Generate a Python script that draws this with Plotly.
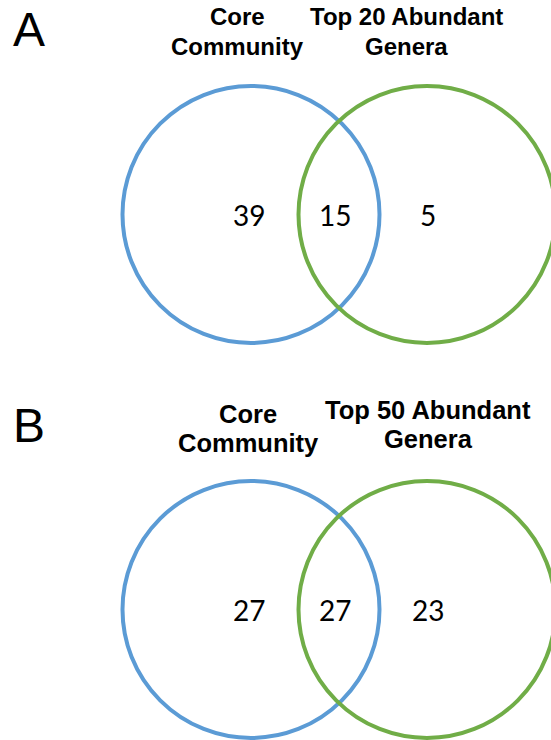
import plotly.graph_objects as go

# ---- data ----
panels = ["A", "B"]
set_left_labels = ["Core<br>Community", "Core<br>Community"]
set_right_labels = ["Top 20 Abundant<br>Genera", "Top 50 Abundant<br>Genera"]
left_only = [39, 27]
overlap = [15, 27]
right_only = [5, 23]

# ---- layout geometry (page pixels) ----
W, H = 551, 740
R = 128.5
cy = [214.5, 609.5]
cx_left, cx_right = 251, 427
head_x_left = [237, 248]
head_x_right = [406, 428]
head_y = [[16.5, 46.5], [413.5, 443]]
head_y_r = [[16.5, 46.5], [410, 439]]
head_size = [24, 25.5]
num_x = [248.5, 335, 428]
letter_y = [29, 425.5]
BLUE = "#5B9BD5"
GREEN = "#70AD47"

fig = go.Figure()
shapes = []
annotations = []
for i, p in enumerate(panels):
    for cx, col in [(cx_left, BLUE), (cx_right, GREEN)]:
        shapes.append(dict(type="circle", xref="x", yref="y",
                           x0=cx - R, x1=cx + R, y0=cy[i] - R, y1=cy[i] + R,
                           line=dict(color=col, width=4)))
    # panel letter
    annotations.append(dict(x=29, y=letter_y[i], text=p, showarrow=False,
                            xanchor="center", yanchor="middle",
                            font=dict(family="Liberation Sans", size=48, color="black")))
    # headings
    for lab, hx, hy in [(set_left_labels[i], head_x_left[i], head_y[i]),
                        (set_right_labels[i], head_x_right[i], head_y_r[i])]:
        for line, yy in zip(lab.split("<br>"), hy):
            annotations.append(dict(x=hx, y=yy, text="<b>%s</b>" % line, showarrow=False,
                                    xanchor="center", yanchor="middle",
                                    font=dict(family="Liberation Sans", size=head_size[i], color="black")))
    # counts
    for v, nx in zip([left_only[i], overlap[i], right_only[i]], num_x):
        annotations.append(dict(x=nx, y=cy[i], text=str(v), showarrow=False,
                                xanchor="center", yanchor="middle",
                                font=dict(family="Lato", size=28, color="black")))

fig.add_trace(go.Scatter(x=[0, W], y=[0, H], mode="markers",
                         marker=dict(opacity=0), hoverinfo="skip", showlegend=False))
fig.update_layout(width=W, height=H, autosize=False,
                  margin=dict(l=0, r=0, t=0, b=0),
                  paper_bgcolor="white", plot_bgcolor="white",
                  shapes=shapes, annotations=annotations,
                  xaxis=dict(range=[0, W], visible=False, fixedrange=True),
                  yaxis=dict(range=[H, 0], visible=False, fixedrange=True))
fig.write_html("out.html", config={"displayModeBar": False},
               post_script="document.body.style.margin='0';document.body.style.overflow='hidden';")
